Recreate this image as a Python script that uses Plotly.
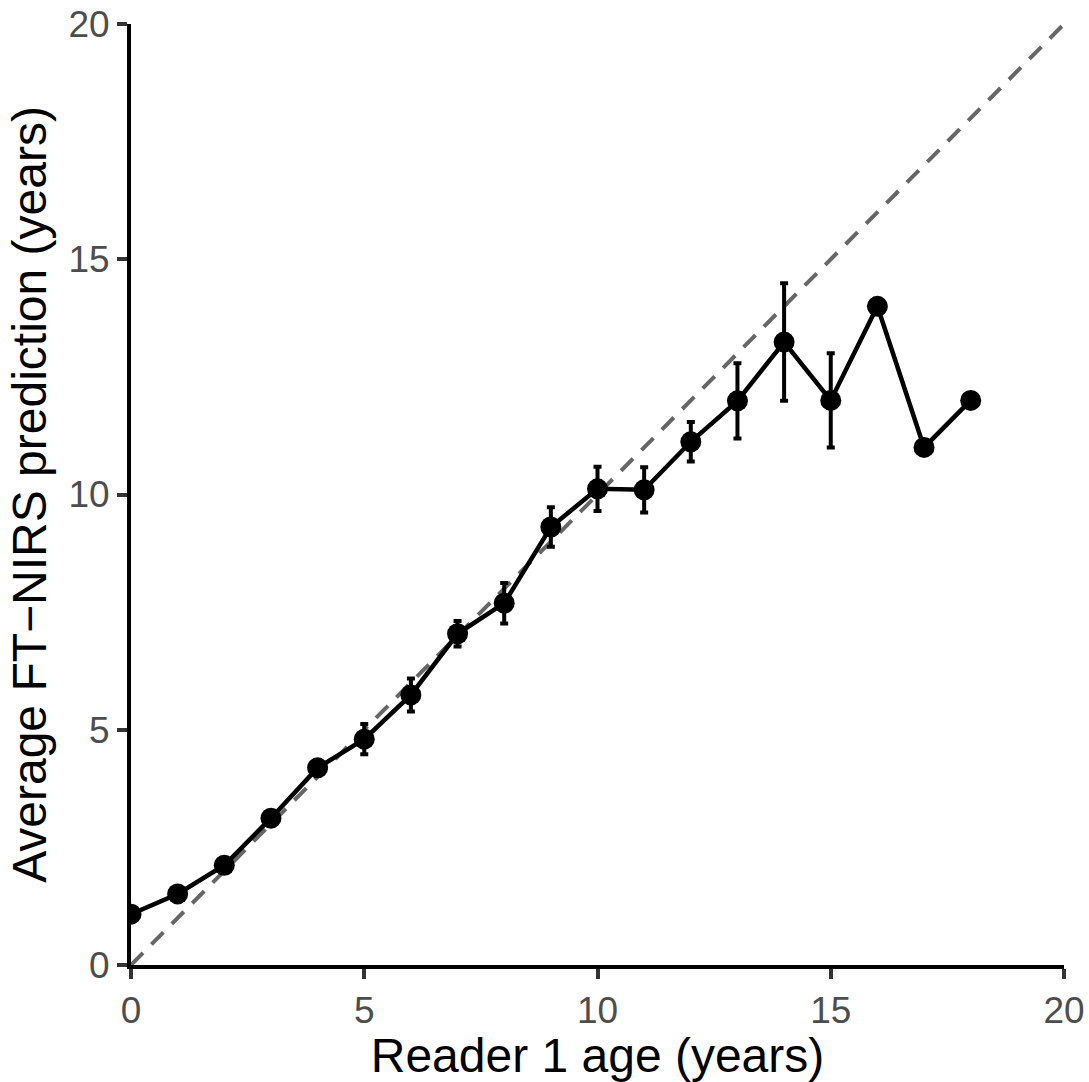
import plotly.graph_objects as go

reader_age = [0, 1, 2, 3, 4, 5, 6, 7, 8, 9, 10, 11, 12, 13, 14, 15, 16, 17, 18]
mean_pred = [1.08, 1.51, 2.12, 3.12, 4.19, 4.80, 5.74, 7.04, 7.69, 9.31, 10.12, 10.10, 11.12, 11.99, 13.24, 12.00, 14.00, 11.00, 12.00]
err = [0.05, 0.06, 0.08, 0.12, 0.15, 0.32, 0.35, 0.27, 0.43, 0.42, 0.47, 0.48, 0.42, 0.80, 1.25, 1.00, 0, 0, 0]

ref_line = [0, 20]

FONT = "Liberation Sans, Arial, sans-serif"

fig = go.Figure()
fig.add_trace(go.Scatter(
    x=ref_line, y=ref_line, mode="lines",
    line=dict(color="#666666", width=4, dash="17px,12px"),
    hoverinfo="skip", showlegend=False,
))
fig.add_trace(go.Scatter(
    x=reader_age, y=mean_pred, mode="lines+markers",
    line=dict(color="black", width=4.5),
    marker=dict(color="black", size=21),
    error_y=dict(type="data", array=err, color="black", thickness=4, width=4),
    showlegend=False,
))

axis_common = dict(
    range=[0, 20], tickvals=[0, 5, 10, 15, 20],
    showgrid=False, zeroline=False, automargin=False,
    showline=True, linecolor="black", linewidth=4,
    ticks="outside", ticklen=10, tickwidth=4, tickcolor="#333333",
    tickfont=dict(family=FONT, size=37, color="#4d4d4d"),
)

fig.update_layout(
    width=1089, height=1082,
    margin=dict(l=131, r=25, t=24, b=117),
    plot_bgcolor="white", paper_bgcolor="white",
    xaxis=dict(**axis_common,
               title=dict(text="Reader 1 age (years)", font=dict(family=FONT, size=48, color="black"), standoff=2)),
    yaxis=dict(**axis_common,
               title=dict(text="Average FT\u2212NIRS prediction (years)", font=dict(family=FONT, size=48, color="black"), standoff=8)),
)

fig.write_html("out.html")
